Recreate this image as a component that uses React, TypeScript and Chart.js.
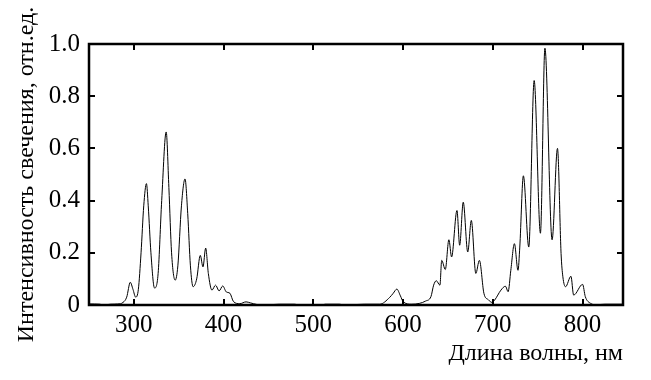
import React, { useEffect, useRef } from "react";
import { Chart, registerables } from "chart.js";

Chart.register(...registerables);

const wavelengths: number[] = [
  250, 262, 266, 274, 282, 288, 292, 296, 299, 302, 305, 308, 311, 314, 316, 319, 323, 327, 331, 336,
  339, 342, 346, 349, 353, 357, 360, 363, 366, 370, 374, 377, 380, 383, 387, 391, 395, 399, 403, 407,
  411, 418, 425, 430, 437, 445, 462, 479, 485, 510, 513, 529, 535, 557, 574, 585, 589, 593, 597, 600,
  609, 618, 625, 631, 634, 637, 641, 643, 647, 651, 654, 660, 663, 667, 672, 676, 681, 685, 690, 695,
  699, 702, 709, 714, 717, 720, 724, 728, 730, 734, 740, 746, 753, 758, 766, 772, 776, 778, 781, 787,
  790, 800, 803, 809, 815, 825, 845,
];

const intensity: number[] = [
  0.004, 0.003, 0, 0.003, 0.004, 0.01, 0.03, 0.087, 0.06, 0.03, 0.06, 0.2, 0.38, 0.465, 0.38, 0.2, 0.065, 0.12, 0.4, 0.663,
  0.45, 0.2, 0.095, 0.15, 0.38, 0.483, 0.35, 0.15, 0.07, 0.1, 0.19, 0.146, 0.218, 0.12, 0.057, 0.076, 0.054, 0.073, 0.05, 0.045,
  0.013, 0.005, 0.012, 0.008, 0.002, 0, 0.003, 0.003, 0, 0, 0.003, 0.003, 0, 0.003, 0.003, 0.029, 0.045, 0.061, 0.035, 0.013,
  0.003, 0.006, 0.015, 0.032, 0.076, 0.093, 0.076, 0.171, 0.136, 0.25, 0.184, 0.362, 0.229, 0.394, 0.203, 0.324, 0.121, 0.171, 0.045, 0.02,
  0.01, 0.019, 0.057, 0.072, 0.051, 0.133, 0.235, 0.133, 0.222, 0.495, 0.222, 0.86, 0.275, 0.984, 0.25, 0.6, 0.197, 0.108, 0.07, 0.11,
  0.038, 0.079, 0.032, 0.006, 0.001, 0.003, 0.003,
];

const xTickValues: number[] = [300, 400, 500, 600, 700, 800];
const yTickValues: number[] = [0, 0.2, 0.4, 0.6, 0.8, 1.0];

const xTitle = "Длина волны, нм";
const yTitle = "Интенсивность свечения, отн.ед.";

const FONT = "'Liberation Serif', 'Times New Roman', serif";

const framePlugin = {
  id: "frameTicks",
  afterDatasetsDraw(chart: any) {
    const { ctx, chartArea } = chart;
    const { left, right, top, bottom } = chartArea;
    const xs = chart.scales.x;
    const ys = chart.scales.y;
    const len = 6;
    ctx.save();
    ctx.strokeStyle = "#000";
    ctx.lineWidth = 2;
    ctx.beginPath();
    xTickValues.forEach((v) => {
      const px = Math.round(xs.getPixelForValue(v));
      ctx.moveTo(px, bottom);
      ctx.lineTo(px, bottom - len);
      ctx.moveTo(px, top);
      ctx.lineTo(px, top + len);
    });
    yTickValues.forEach((v) => {
      const py = Math.round(ys.getPixelForValue(v));
      ctx.moveTo(left, py);
      ctx.lineTo(left + len, py);
      ctx.moveTo(right, py);
      ctx.lineTo(right - len, py);
    });
    ctx.stroke();
    ctx.lineWidth = 2.5;
    ctx.strokeRect(left, top, right - left, bottom - top);
    ctx.restore();
  },
};

export default function App() {
  const ref = useRef<HTMLCanvasElement | null>(null);
  useEffect(() => {
    if (!ref.current) return;
    const points = wavelengths.map((w, i) => ({ x: w, y: intensity[i] }));
    const chart = new Chart(ref.current, {
      type: "line",
      data: {
        datasets: [
          {
            data: points,
            borderColor: "#000",
            borderWidth: 1,
            pointRadius: 0,
            fill: false,
            cubicInterpolationMode: "monotone",
          },
        ],
      },
      options: {
        responsive: false,
        animation: false,
        layout: { padding: { left: 0, top: 44, right: 28, bottom: 0 } },
        plugins: { legend: { display: false }, tooltip: { enabled: false } },
        scales: {
          x: {
            type: "linear",
            min: 250,
            max: 845,
            afterBuildTicks: (scale: any) => {
              scale.ticks = xTickValues.map((v) => ({ value: v }));
            },
            afterFit: (scale: any) => {
              scale.height = 75;
            },
            grid: { display: false, drawTicks: false },
            border: { display: false },
            ticks: {
              color: "#000",
              padding: 5,
              maxRotation: 0,
              autoSkip: false,
              font: { family: FONT, size: 25 },
            },
            title: {
              display: true,
              text: xTitle,
              align: "end",
              color: "#000",
              padding: { top: 0, bottom: 12 },
              font: { family: FONT, size: 24 },
            },
          },
          y: {
            type: "linear",
            min: 0,
            max: 1,
            afterBuildTicks: (scale: any) => {
              scale.ticks = yTickValues.map((v) => ({ value: v }));
            },
            afterFit: (scale: any) => {
              scale.width = 89;
            },
            grid: { display: false, drawTicks: false },
            border: { display: false },
            ticks: {
              color: "#000",
              padding: 9,
              autoSkip: false,
              font: { family: FONT, size: 25 },
              callback: (v: any) => (Number(v) === 0 ? "0" : Number(v).toFixed(1)),
            },
            title: {
              display: true,
              text: yTitle,
              color: "#000",
              padding: { top: 12, bottom: 0 },
              font: { family: FONT, size: 24 },
            },
          },
        },
      },
      plugins: [framePlugin],
    });
    return () => chart.destroy();
  }, []);
  return (
    <div style={{ position: "fixed", left: 0, top: 0, width: 651, height: 380, background: "#fff" }}>
      <canvas ref={ref} width={651} height={380} style={{ display: "block" }} />
    </div>
  );
}
